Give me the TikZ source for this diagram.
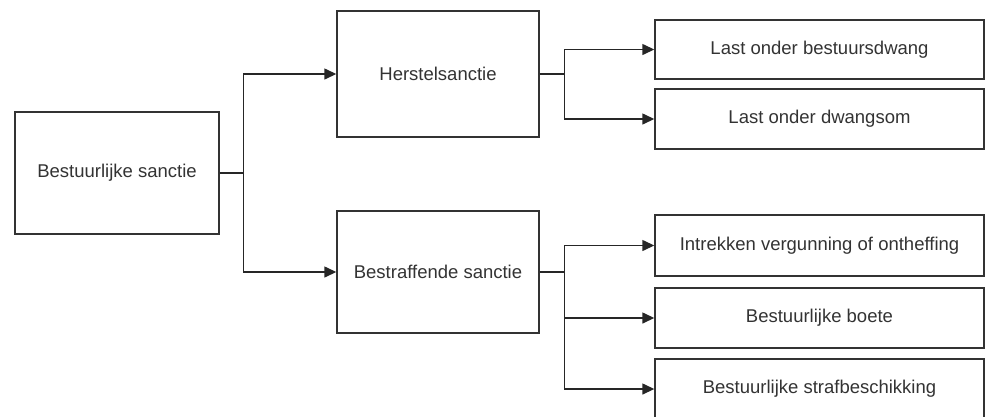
\documentclass[tikz,border=0pt]{standalone}
\usepackage{fontspec}
\setmainfont{Liberation Sans}
\usetikzlibrary{arrows.meta}
\tikzset{%
    blok/.style={draw=black!80,line width=1.4pt,fill=white,inner sep=0pt,text=black!80,font=\fontsize{18.5}{20}\selectfont},
    lijn/.style={draw=black!85,line width=1.4pt},
    pijl/.style={lijn,-{Triangle[length=12pt,width=11pt]}},
}
\begin{document}
\begin{tikzpicture}[x=1pt,y=-1pt]
	
	\useasboundingbox (0,0) rectangle (985,416);
	
	%hoofdblok
	\node[blok,minimum width=204pt,minimum height=122pt] (sanctie) at (117,173) {Bestuurlijke sanctie};
	
	%tweede kolom
	\node[blok,minimum width=202pt,minimum height=126pt] (herstel) at (438,74) {Herstelsanctie};
	\node[blok,minimum width=202pt,minimum height=122pt] (straf) at (438,272) {Bestraffende sanctie};
	
	%derde kolom
	\node[blok,minimum width=329pt,minimum height=59pt] (bestuursdwang) at (819.5,49.5) {Last onder bestuursdwang};
	\node[blok,minimum width=329pt,minimum height=60pt] (dwangsom) at (819.5,119) {Last onder dwangsom};
	\node[blok,minimum width=329pt,minimum height=61pt] (intrekken) at (819.5,245.5) {Intrekken vergunning of ontheffing};
	\node[blok,minimum width=329pt,minimum height=60pt] (boete) at (819.5,318) {Bestuurlijke boete};
	\node[blok,minimum width=329pt,minimum height=60pt] (strafbeschikking) at (819.5,389) {Bestuurlijke strafbeschikking};
	
	%verbindingen
	\draw[lijn] (sanctie.east) -- ++(24,0) coordinate (s1);
	\draw[pijl] (s1) |- (herstel.west);
	\draw[pijl] (s1) |- (straf.west);
	
	\draw[lijn] (herstel.east) -- ++(25,0) coordinate (h1);
	\draw[pijl] (h1) |- (bestuursdwang.west);
	\draw[pijl] (h1) |- (dwangsom.west);
	
	\draw[lijn] (straf.east) -- ++(25,0) coordinate (b1);
	\draw[pijl] (b1) |- (intrekken.west);
	\draw[pijl] (b1) |- (boete.west);
	\draw[pijl] (b1) |- (strafbeschikking.west);
	
\end{tikzpicture}
\end{document}
